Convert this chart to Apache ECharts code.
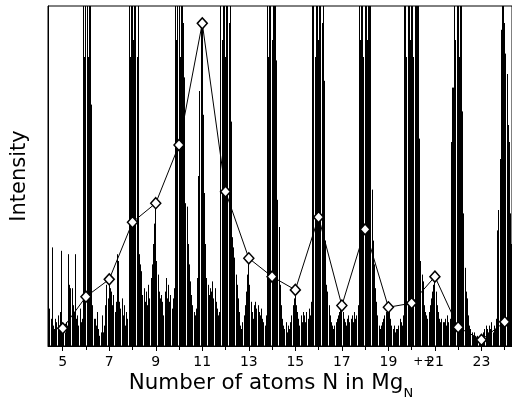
<!DOCTYPE html>
<html>
<head>
<meta charset="utf-8">
<script src="https://cdn.jsdelivr.net/npm/echarts@6/dist/echarts.min.js"></script>
<style>
  html, body { margin: 0; padding: 0; background: #fff; }
  #chart { width: 512px; height: 405px; }
</style>
</head>
<body>
<div id="chart"></div>
<script>
// Cluster sizes N and the doubly-charged abundance trace (diamonds)
const sizes = [5, 6, 7, 8, 9, 10, 11, 12, 13, 14, 15, 16, 17, 18, 19, 20, 21, 22, 23, 24];
const abundance = [5.2, 14.5, 19.6, 36.4, 42.0, 59.1, 94.9, 45.4, 25.8, 20.4,
                   16.5, 37.9, 11.9, 34.3, 11.4, 12.6, 20.4, 5.5, 1.8, 7.1];

// Tick values on the N axis
const labelTicks = [5, 7, 9, 11, 13, 15, 17, 19, 21, 23];
const evenTicks = [6, 8, 10, 12, 14, 16, 18, 20, 22, 24];

// Raw spectrum: one window per cluster size N, 20 samples from N-0.60 to N+0.35
const windowStart = -0.6;
const sampleStep = 0.05;
const spectrumWindows = [
  [9, 11, 8, 29, 6, 5, 8, 7, 9, 6, 10, 28, 5, 6, 4, 7, 6, 27, 18, 17],                 // N=5
  [17, 12, 10, 27, 8, 9, 6, 11, 7, 8, 120, 85, 120, 120, 85, 120, 120, 71, 12, 8],     // N=6
  [8, 6, 10, 5, 3, 4, 9, 4, 6, 12, 18, 14, 20, 17, 16, 12, 15, 10, 13, 27],            // N=7
  [25, 13, 11, 14, 9, 12, 6, 10, 8, 120, 85, 120, 120, 90, 120, 120, 85, 110, 27, 24], // N=8
  [22, 15, 17, 13, 16, 12, 18, 14, 20, 24, 30, 36, 42, 25, 21, 16, 14, 15, 13, 9],     // N=9
  [16, 20, 14, 18, 13, 15, 11, 14, 17, 120, 90, 120, 120, 85, 120, 120, 95, 79, 42, 41], // N=10
  [30, 24, 19, 15, 12, 10, 9, 11, 20, 50, 75, 95, 94.9, 68, 45, 30, 20, 18, 15, 17],   // N=11
  [16, 19, 14, 17, 13, 11, 9, 10, 120, 90, 120, 120, 85, 120, 120, 95, 100, 66, 32, 29], // N=12
  [26, 21, 18, 14, 10, 6, 5, 7, 9, 12, 16, 21, 25.8, 18, 13, 10, 8, 12, 13, 11],       // N=13
  [12, 10, 9, 11, 8, 7, 6, 9, 120, 85, 120, 120, 90, 120, 120, 100, 84, 43, 35, 18],   // N=14
  [12, 8, 6, 5, 7, 4, 6, 5, 7, 9, 12, 14, 16.5, 12, 10, 8, 6, 9, 7, 10],               // N=15
  [9, 7, 10, 8, 11, 9, 13, 100, 120, 85, 120, 120, 90, 120, 120, 95, 110, 78, 31, 18], // N=16
  [16, 12, 9, 7, 6, 5, 6, 7, 8, 9, 10, 11, 11.9, 10, 8, 7, 6, 8, 9, 7],                // N=17
  [8, 9, 7, 10, 8, 9, 12, 120, 90, 120, 120, 85, 120, 120, 90, 120, 120, 100, 46, 31], // N=18
  [24, 17, 13, 9, 6, 5, 6, 7, 8, 9, 10, 11, 11.4, 10, 8, 6, 5, 6, 4, 5],               // N=19
  [5, 6, 8, 7, 6, 9, 100, 120, 85, 120, 120, 90, 120, 120, 85, 120, 120, 110, 100, 61], // N=20
  [25, 21, 19, 12, 10, 9, 8, 10, 12, 14, 16, 18, 20.4, 16, 12, 10, 8, 7, 8, 7],        // N=21
  [7, 8, 6, 9, 7, 8, 60, 76, 76, 120, 90, 120, 120, 85, 120, 110, 69, 39, 23, 16],     // N=22
  [14, 9, 6, 5, 4, 3, 4, 3, 2.5, 3, 2, 2, 1.8, 3, 4, 5, 6, 5, 4, 6],                   // N=23
  [5, 7, 4, 6, 5, 8, 34, 40, 55, 93, 110, 120, 95, 86, 80, 65, 60, 39, 30, 20]         // N=24
];

const spectrum = [];
spectrumWindows.forEach((row, k) => {
  const n = sizes[k];
  row.forEach((v, i) => {
    spectrum.push([+(n + windowStart + i * sampleStep).toFixed(3), v]);
  });
});

const trace = sizes.map((n, i) => [n, abundance[i]]);

const Y_MAX = 100;
const FONT = 'DejaVu Sans';
const chart = echarts.init(document.getElementById('chart'), null, { renderer: 'canvas' });

// Each spectrum sample is a 1px stick from the baseline, snapped to a pixel column
function renderStick(params, api) {
  const x = api.value(0);
  const v = Math.min(api.value(1), Y_MAX);
  const base = api.coord([x, 0]);
  const tip = api.coord([x, v]);
  const px = Math.floor(base[0]) + 0.5;
  return {
    type: 'line',
    silent: true,
    shape: { x1: px, y1: base[1], x2: px, y2: tip[1] },
    style: { stroke: '#000', lineWidth: 1 }
  };
}

chart.setOption({
  animation: false,
  backgroundColor: '#fff',
  grid: {
    left: 48, right: 0, top: 6, bottom: 59,
    outerBoundsMode: 'none',
    show: true, borderColor: '#000', borderWidth: 1, backgroundColor: 'transparent'
  },
  xAxis: [
    {
      type: 'value', min: 4.368, max: 24.314, position: 'bottom',
      axisLine: { show: true, onZero: false, lineStyle: { color: '#000', width: 1 } },
      axisTick: { show: true, customValues: labelTicks, length: 5, lineStyle: { color: '#000', width: 1 } },
      axisLabel: { customValues: labelTicks, margin: 9, color: '#000', fontFamily: FONT, fontSize: 14 },
      splitLine: { show: false },
      name: 'Number of atoms N in Mg{sub|N}{sup|++}',
      nameLocation: 'middle',
      nameGap: 10,
      nameMoveOverlap: false,
      nameTextStyle: {
        color: '#000', fontFamily: FONT, fontSize: 21.4,
        padding: [0, 0, 0, 2],
        rich: {
          sub: { fontFamily: FONT, fontSize: 13, color: '#000', padding: [22, 0, 0, 0] },
          sup: { fontFamily: FONT, fontSize: 12, color: '#000', padding: [0, 0, 42, 0] }
        }
      }
    },
    {
      type: 'value', min: 4.368, max: 24.314, position: 'bottom',
      axisLine: { show: false },
      axisTick: { show: true, customValues: evenTicks, length: 4, lineStyle: { color: '#000', width: 1 } },
      axisLabel: { show: false },
      splitLine: { show: false }
    }
  ],
  yAxis: {
    type: 'value', min: 0, max: Y_MAX,
    axisLine: { show: true, lineStyle: { color: '#000', width: 1 } },
    axisTick: { show: false },
    axisLabel: { show: false },
    splitLine: { show: false },
    name: 'Intensity',
    nameLocation: 'middle',
    nameGap: 18,
    nameMoveOverlap: false,
    nameTextStyle: { color: '#000', fontFamily: FONT, fontSize: 21 }
  },
  series: [
    {
      type: 'custom',
      xAxisIndex: 0,
      data: spectrum,
      encode: { x: 0, y: 1 },
      renderItem: renderStick,
      silent: true,
      z: 2
    },
    {
      type: 'line',
      xAxisIndex: 0,
      data: trace,
      symbol: 'diamond',
      symbolSize: [10, 11],
      lineStyle: { color: '#000', width: 1 },
      itemStyle: { color: '#fff', borderColor: '#000', borderWidth: 1.5 },
      clip: false,
      z: 5
    }
  ]
});
</script>
</body>
</html>
